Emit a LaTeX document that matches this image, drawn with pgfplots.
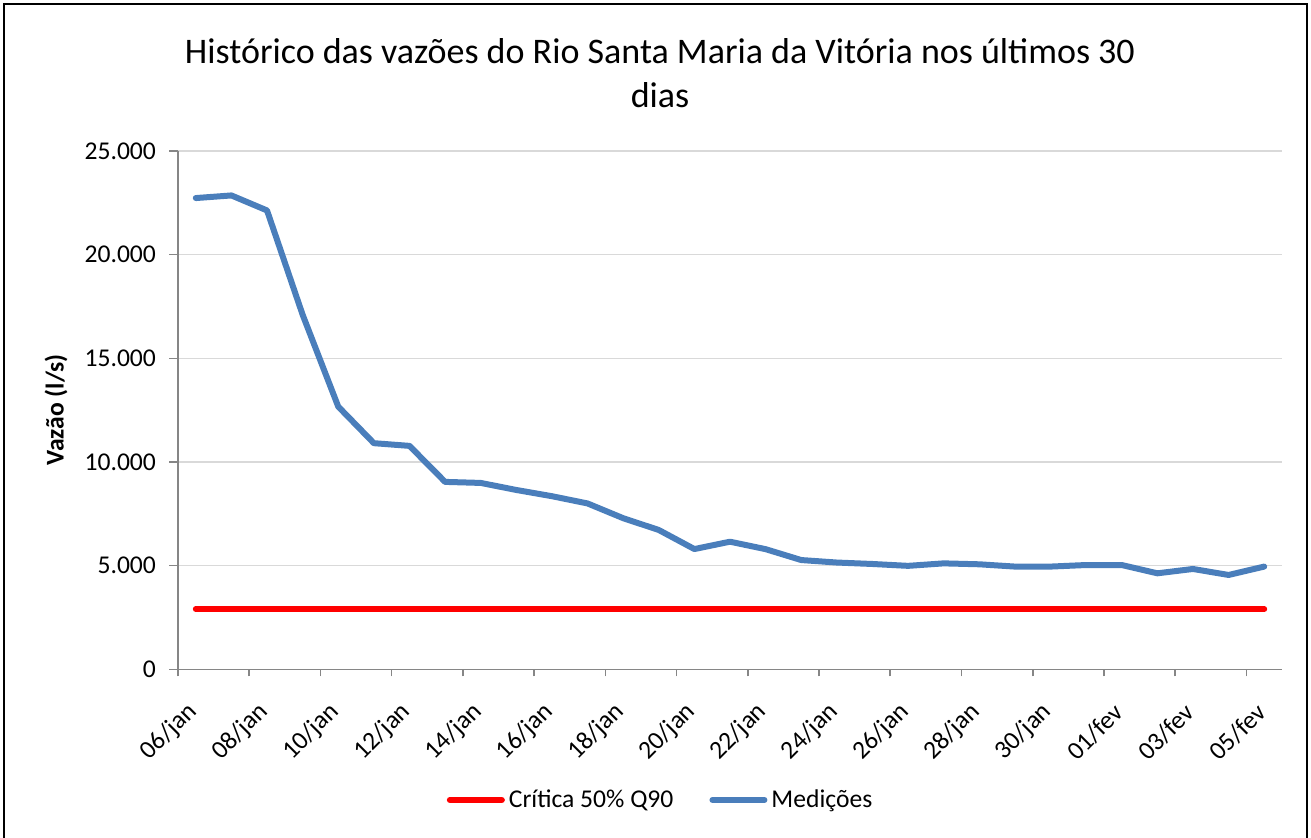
\documentclass[border=0pt]{standalone}
\usepackage{fontspec}
\setmainfont{Carlito}
\usepackage{pgfplots}
\pgfplotsset{compat=1.18}
\usepackage{pgfplotstable}
\definecolor{serieblue}{HTML}{4A7EBB}
\definecolor{axisgray}{HTML}{868686}
\definecolor{gridgray}{HTML}{D9D9D9}
\pgfplotstableread{
x y
0 22730
1 22857
2 22133
3 17100
4 12670
5 10907
6 10777
7 9040
8 8990
9 8650
10 8350
11 8000
12 7290
13 6720
14 5800
15 6155
16 5795
17 5270
18 5150
19 5080
20 4990
21 5110
22 5065
23 4955
24 4955
25 5030
26 5030
27 4630
28 4840
29 4550
30 4955
}\medicoes
\pgfplotstableread{
x y
0 2900
30 2900
}\critica
\begin{document}
\begin{tikzpicture}
\begin{scope}[x=0.5pt,y=0.5pt]
\useasboundingbox (0,0) rectangle (1311,837);
\draw[black, line width=1pt] (4,-5) -- (4,833) -- (1307,833) -- (1307,-5);
\node[anchor=base, font=\fontsize{18}{21}\selectfont] at (660,837-64) {Histórico das vazões do Rio Santa Maria da Vitória nos últimos 30};
\node[anchor=base, font=\fontsize{18}{21}\selectfont] at (660,837-108) {dias};
\node[rotate=90, font=\fontsize{12.8}{15}\selectfont\bfseries] at (56,837-410) {Vazão (l/s)};
\end{scope}
\begin{axis}[
  at={(89pt,83.85pt)}, anchor=south west,
  scale only axis, width=552pt, height=259.15pt,
  xmin=-0.5, xmax=30.5, ymin=0, ymax=25000,
  scaled y ticks=false,
  axis x line*=bottom, axis y line*=left,
  axis line style={draw=axisgray, line width=0.8pt},
  every tick/.style={draw=axisgray, line width=0.8pt},
  tick align=outside,
  xtick={0,2,...,30},
  xticklabels={06/jan,08/jan,10/jan,12/jan,14/jan,16/jan,18/jan,20/jan,22/jan,24/jan,26/jan,28/jan,30/jan,01/fev,03/fev,05/fev},
  minor xtick={-0.5,1.5,...,29.5},
  major x tick style={draw=none},
  minor tick length=3.5pt,
  ytick={0,5000,...,25000},
  major tick length=4.5pt,
  ymajorgrids,
  y grid style={draw=gridgray, line width=0.75pt},
  /pgf/number format/.cd, 1000 sep={.}, assume math mode=true, /pgfplots/.cd,
  ticklabel style={font=\fontsize{12.8}{15}\selectfont},
  yticklabel style={xshift=-3pt},
  xticklabel style={rotate=45, anchor=east, yshift=-9.5pt, xshift=-8pt},
  legend style={at={(0.438,-0.252)}, anchor=center, draw=none, fill=none,
    legend columns=2, font=\fontsize{12.8}{15}\selectfont,
    /tikz/every even column/.append style={column sep=16pt}},
  legend image code/.code={\draw[#1] (0pt,0pt) -- (26pt,0pt);},
  clip=false,
]
\addplot[red, line width=3pt, line cap=round] table[x=x,y=y] {\critica};
\addlegendentry{Crítica 50\% Q90}
\addplot[serieblue, line width=3pt, line cap=round, line join=round] table[x=x,y=y] {\medicoes};
\addlegendentry{Medições}
\end{axis}
\end{tikzpicture}
\end{document}
